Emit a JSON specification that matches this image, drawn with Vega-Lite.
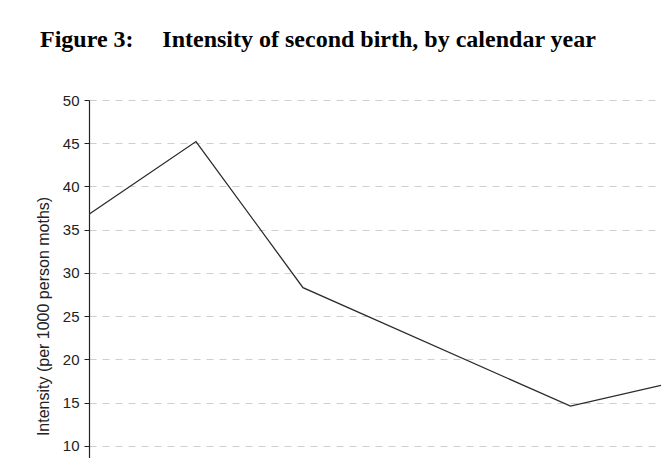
{
  "$schema": "https://vega.github.io/schema/vega-lite/v6.json",
  "autosize": {"type": "none"},
  "width": 572,
  "height": 358,
  "padding": {"left": 89, "top": 100, "right": 0, "bottom": 0},
  "background": "white",
  "title": {
    "text": "Figure 3:\u00a0\u00a0\u00a0\u00a0\u2009Intensity of second birth, by calendar year",
    "anchor": "start",
    "frame": "group",
    "font": "Liberation Serif",
    "fontSize": 24,
    "fontWeight": "bold",
    "color": "black",
    "dx": -49,
    "offset": 41
  },
  "data": {
    "values": [
      {"period": 1, "intensity": 36.8},
      {"period": 2, "intensity": 45.2},
      {"period": 3, "intensity": 28.3},
      {"period": 5.5, "intensity": 14.6},
      {"period": 6.346, "intensity": 17.0}
    ]
  },
  "mark": {"type": "line", "color": "#2a2a2a", "strokeWidth": 1.3, "clip": true},
  "encoding": {
    "x": {
      "field": "period",
      "type": "quantitative",
      "scale": {"domain": [1, 6.346], "nice": false, "zero": false},
      "axis": null
    },
    "y": {
      "field": "intensity",
      "type": "quantitative",
      "scale": {"domain": [8.61, 50], "nice": false, "zero": false},
      "axis": {
        "title": "Intensity (per 1000 person moths)",
        "values": [10, 15, 20, 25, 30, 35, 40, 45, 50],
        "labelFont": "Liberation Sans",
        "labelFontSize": 15,
        "labelColor": "#222222",
        "labelPadding": 5,
        "tickSize": 5,
        "tickColor": "#222222",
        "domainColor": "#222222",
        "domainWidth": 1.2,
        "titleFont": "Liberation Sans",
        "titleFontSize": 16,
        "titleFontWeight": "normal",
        "titleColor": "#222222",
        "titleX": -46,
        "titleY": 216,
        "titleBaseline": "middle",
        "titleAngle": -90,
        "grid": true,
        "gridColor": "#cfcfcf",
        "gridDash": [7, 6],
        "gridWidth": 1
      }
    }
  },
  "config": {"view": {"stroke": null}}
}
